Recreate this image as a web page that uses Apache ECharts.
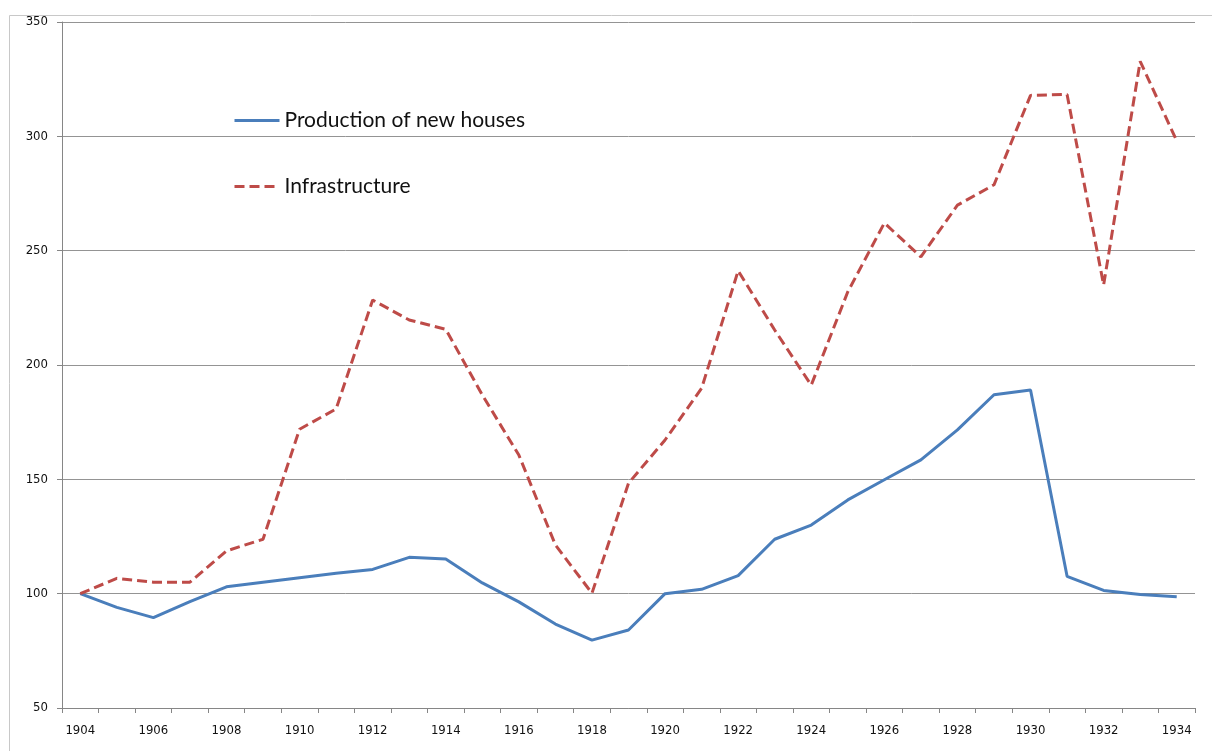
<!DOCTYPE html>
<html>
<head>
<meta charset="utf-8">
<script src="https://cdn.jsdelivr.net/npm/echarts@6/dist/echarts.min.js"></script>
<style>
html,body{margin:0;padding:0;background:#fff;}
#chart{width:1212px;height:751px;}
</style>
</head>
<body>
<div id="chart"></div>
<script>
const years = ['1904','1905','1906','1907','1908','1909','1910','1911','1912','1913','1914','1915','1916','1917','1918','1919','1920','1921','1922','1923','1924','1925','1926','1927','1928','1929','1930','1931','1932','1933','1934'];
const houses = [100, 94, 89.5, 96.5, 103, 105, 107, 108.9, 110.6, 115.9, 115.2, 104.7, 96.4, 86.7, 79.7, 84.1, 100, 101.9, 107.9, 123.8, 130, 141, 149.8, 158.5, 171.6, 187, 189.1, 107.6, 101.4, 99.6, 98.6];
const infrastructure = [100, 106.7, 105, 105, 118.7, 123.8, 171.9, 180.8, 228.4, 219.7, 215.6, 186.9, 160.6, 121.3, 100.2, 148.3, 167.2, 189.8, 241.2, 215.3, 191.2, 232, 262.1, 247.3, 269.9, 278.8, 317.9, 318.3, 235, 332.8, 298];
const yTicks = [50, 350, 50];

const chart = echarts.init(document.getElementById('chart'), null, {renderer:'canvas'});
const tickFont = '"DejaVu Sans Condensed", "Liberation Sans", sans-serif';
chart.setOption({
  animation: false,
  backgroundColor: '#fff',
  graphic: [{
    type: 'rect', left: 7, top: 13,
    shape: {width: 1400, height: 900},
    style: {fill: 'none', stroke: '#c8c8c8', lineWidth: 1}
  }],
  legend: {
    orient: 'vertical',
    left: 228, top: 105,
    itemWidth: 45, itemHeight: 14,
    itemGap: 45,
    itemStyle: {opacity: 0},
    lineStyle: {width: 3},
    textStyle: {fontFamily: 'Lato, "Liberation Sans", sans-serif', fontSize: 21, color: '#111'},
    data: ['Production of new houses', 'Infrastructure']
  },
  grid: {left: 62, right: 17, top: 22, bottom: 43, containLabel: false},
  xAxis: {
    type: 'category',
    data: years,
    boundaryGap: true,
    axisLine: {lineStyle: {color: '#868686', width: 1}},
    axisTick: {show: true, interval: 0, length: 5, lineStyle: {color: '#868686'}},
    axisLabel: {interval: 1, margin: 16, fontFamily: tickFont, fontSize: 13, color: '#111'},
    splitLine: {show: false}
  },
  yAxis: {
    type: 'value',
    min: yTicks[0], max: yTicks[1], interval: yTicks[2],
    axisLine: {show: true, lineStyle: {color: '#868686', width: 1}},
    axisTick: {show: true, length: 5, lineStyle: {color: '#868686'}},
    axisLabel: {margin: 14, fontFamily: tickFont, fontSize: 13, color: '#111'},
    splitLine: {show: true, lineStyle: {color: '#949494', width: 1}}
  },
  series: [
    {
      name: 'Production of new houses', type: 'line', data: houses,
      symbol: 'none', smooth: false,
      lineStyle: {color: '#4a7ebb', width: 3},
      itemStyle: {color: '#4a7ebb'}
    },
    {
      name: 'Infrastructure', type: 'line', data: infrastructure,
      symbol: 'none', smooth: false,
      lineStyle: {color: '#be4b48', width: 3, type: [10, 5]},
      itemStyle: {color: '#be4b48'}
    }
  ]
});
</script>
</body>
</html>
